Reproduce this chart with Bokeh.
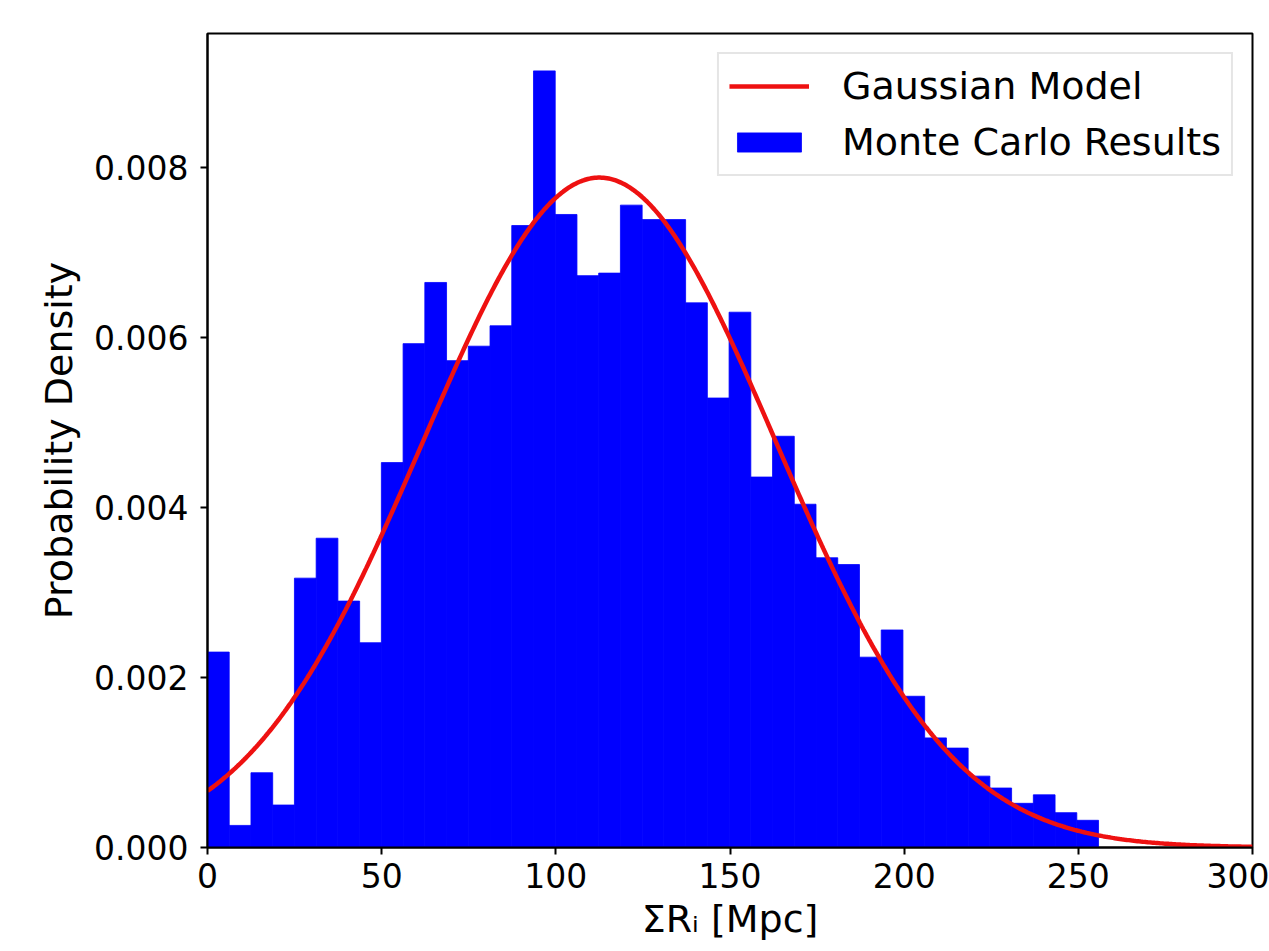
import numpy as np
from bokeh.plotting import figure
from bokeh.models import Range1d, FixedTicker, Legend, LegendItem, NumeralTickFormatter
from bokeh.embed import file_html
from bokeh.resources import INLINE

# ---- data ----
bin_start = 0.0
bin_stop = 255.8
densities = [0.00230, 0.00026, 0.00088, 0.00050, 0.00317, 0.00364, 0.00290, 0.00241,
             0.00453, 0.00593, 0.00665, 0.00573, 0.00590, 0.00614, 0.00732, 0.00914,
             0.00745, 0.00673, 0.00676, 0.00756, 0.00739, 0.00739, 0.00641, 0.00529,
             0.00630, 0.00436, 0.00484, 0.00404, 0.00341, 0.00333, 0.00224, 0.00256,
             0.00178, 0.00129, 0.00117, 0.00084, 0.00070, 0.00052, 0.00062, 0.00041,
             0.00032]
gauss_mu = 112.5
gauss_sigma = 50.6
x_ticks = [0, 50, 100, 150, 200, 250, 300]
y_ticks = [0.000, 0.002, 0.004, 0.006, 0.008]

edges = np.linspace(bin_start, bin_stop, len(densities) + 1)
xs = np.linspace(0, 300, 600)
ys = np.exp(-0.5 * ((xs - gauss_mu) / gauss_sigma) ** 2) / (gauss_sigma * np.sqrt(2 * np.pi))

FONT = "DejaVu Sans"

p = figure(width=1269, height=951, output_backend="svg", toolbar_location=None,
           x_range=Range1d(0, 300), y_range=Range1d(0, 0.00958),
           min_border_left=207, min_border_right=17, min_border_top=33, min_border_bottom=104)
p.background_fill_color = "white"
p.border_fill_color = "white"
p.xgrid.visible = False
p.ygrid.visible = False
p.outline_line_color = "black"
p.outline_line_width = 2

bars = p.quad(left=edges[:-1], right=edges[1:], top=densities, bottom=0,
              fill_color="#0000ff", line_color="#0000ff", line_width=0.8)
curve = p.line(xs, ys, line_color="#ee1111", line_width=4.5)

for ax in (p.xaxis[0], p.yaxis[0]):
    ax.axis_line_color = "black"
    ax.axis_line_width = 2
    ax.major_tick_line_color = "black"
    ax.major_tick_line_width = 2
    ax.major_tick_out = 7
    ax.major_tick_in = 0
    ax.minor_tick_line_color = None
    ax.major_label_text_font = FONT
    ax.major_label_text_font_size = "33px"
    ax.major_label_text_color = "black"
    ax.axis_label_text_font = FONT
    ax.axis_label_text_font_size = "38px"
    ax.axis_label_text_font_style = "normal"
    ax.axis_label_text_color = "black"

p.xaxis.ticker = FixedTicker(ticks=x_ticks)
p.yaxis.ticker = FixedTicker(ticks=y_ticks)
p.yaxis.formatter = NumeralTickFormatter(format="0.000")
p.xaxis.major_label_standoff = 8
p.yaxis.major_label_standoff = 12
p.xaxis.axis_label = "ΣRᵢ [Mpc]"
p.yaxis.axis_label = "Probability Density"
p.xaxis.axis_label_standoff = 6
p.yaxis.axis_label_standoff = 10

legend = Legend(items=[LegendItem(label="Gaussian Model", renderers=[curve]),
                       LegendItem(label="Monte Carlo Results", renderers=[bars])],
                location="top_right", margin=19, padding=10, spacing=12,
                glyph_width=80, glyph_height=24, label_standoff=33, label_height=44,
                label_text_font=FONT, label_text_font_size="38px", label_text_color="black",
                border_line_color="#cccccc", border_line_width=2,
                background_fill_color="white", background_fill_alpha=0.85)
p.add_layout(legend)

open("out.html", "w").write(file_html(p, INLINE))
